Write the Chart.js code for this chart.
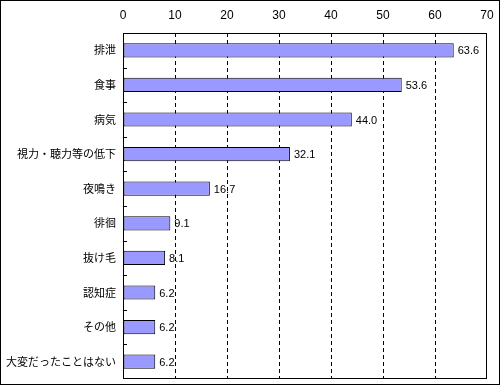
<!DOCTYPE html>
<html>
<head>
<meta charset="utf-8">
<script src="https://cdn.jsdelivr.net/npm/chart.js@4/dist/chart.umd.min.js"></script>
<style>
html,body{margin:0;padding:0;background:#fff;}
canvas{display:block;}
</style>
</head>
<body>
<canvas id="c" width="500" height="385"></canvas>
<script>
const categories = ["排泄","食事","病気","視力・聴力等の低下","夜鳴き","徘徊","抜け毛","認知症","その他","大変だったことはない"];
const values = [63.6,53.6,44.0,32.1,16.7,9.1,8.1,6.2,6.2,6.2];
const xTicks = [0,10,20,30,40,50,60,70];

const JP = '"Noto Sans CJK JP", "Liberation Sans", sans-serif';
const NUM = '"Liberation Sans", "DejaVu Sans", sans-serif';

const decor = {
  id: 'decor',
  afterDatasetsDraw(chart) {
    const ctx = chart.ctx;
    const ca = chart.chartArea;
    const ys = chart.scales.y;
    ctx.save();
    ctx.strokeStyle = '#000';
    ctx.lineWidth = 1;
    ctx.strokeRect(Math.round(ca.left) + 0.5, Math.round(ca.top) + 0.5,
                   Math.round(ca.right - ca.left) - 1, Math.round(ca.bottom - ca.top) - 1);
    for (let i = 1; i < categories.length; i++) {
      const y = Math.round((ys.getPixelForValue(i - 1) + ys.getPixelForValue(i)) / 2) + 0.5;
      ctx.beginPath();
      ctx.moveTo(ca.left, y);
      ctx.lineTo(ca.left + 4, y);
      ctx.stroke();
    }
    const meta = chart.getDatasetMeta(0);
    ctx.fillStyle = '#000';
    ctx.font = '11px ' + NUM;
    ctx.textAlign = 'left';
    ctx.textBaseline = 'middle';
    meta.data.forEach((bar, i) => {
      ctx.fillText(values[i].toFixed(1), bar.x + 4, bar.y + 1);
    });
    ctx.strokeRect(0.5, 0.5, chart.width - 1, chart.height - 1);
    ctx.restore();
  }
};

new Chart(document.getElementById('c'), {
  type: 'bar',
  data: {
    labels: categories,
    datasets: [{
      data: values,
      backgroundColor: '#9999ff',
      borderColor: '#000',
      borderWidth: 1,
      borderSkipped: false,
      categoryPercentage: 1,
      barPercentage: 0.41
    }]
  },
  options: {
    indexAxis: 'y',
    responsive: false,
    devicePixelRatio: 1,
    animation: false,
    layout: { padding: { left: 0, right: 13, top: 0, bottom: 6 } },
    plugins: { legend: { display: false }, tooltip: { enabled: false } },
    scales: {
      x: {
        position: 'top',
        min: 0, max: 70,
        afterBuildTicks(scale) { scale.ticks = xTicks.map(v => ({ value: v })); },
        afterFit(scale) { scale.height = 33; scale.paddingLeft = 0; scale.paddingRight = 0; },
        ticks: { color: '#000', font: { family: NUM, size: 12 }, padding: 10, maxRotation: 0 },
        grid: {
          drawTicks: false,
          color: ctx => (ctx.tick && (ctx.tick.value === 0 || ctx.tick.value === 70)) ? 'rgba(0,0,0,0)' : '#000',
          lineWidth: 1
        },
        border: { display: false, dash: [4, 3] }
      },
      y: {
        afterFit(scale) { scale.width = 123; scale.paddingTop = 0; scale.paddingBottom = 0; },
        ticks: { color: '#000', font: { family: JP, size: 11 }, padding: 7 },
        grid: { display: false, drawTicks: false },
        border: { display: false }
      }
    }
  },
  plugins: [decor]
});
</script>
</body>
</html>
